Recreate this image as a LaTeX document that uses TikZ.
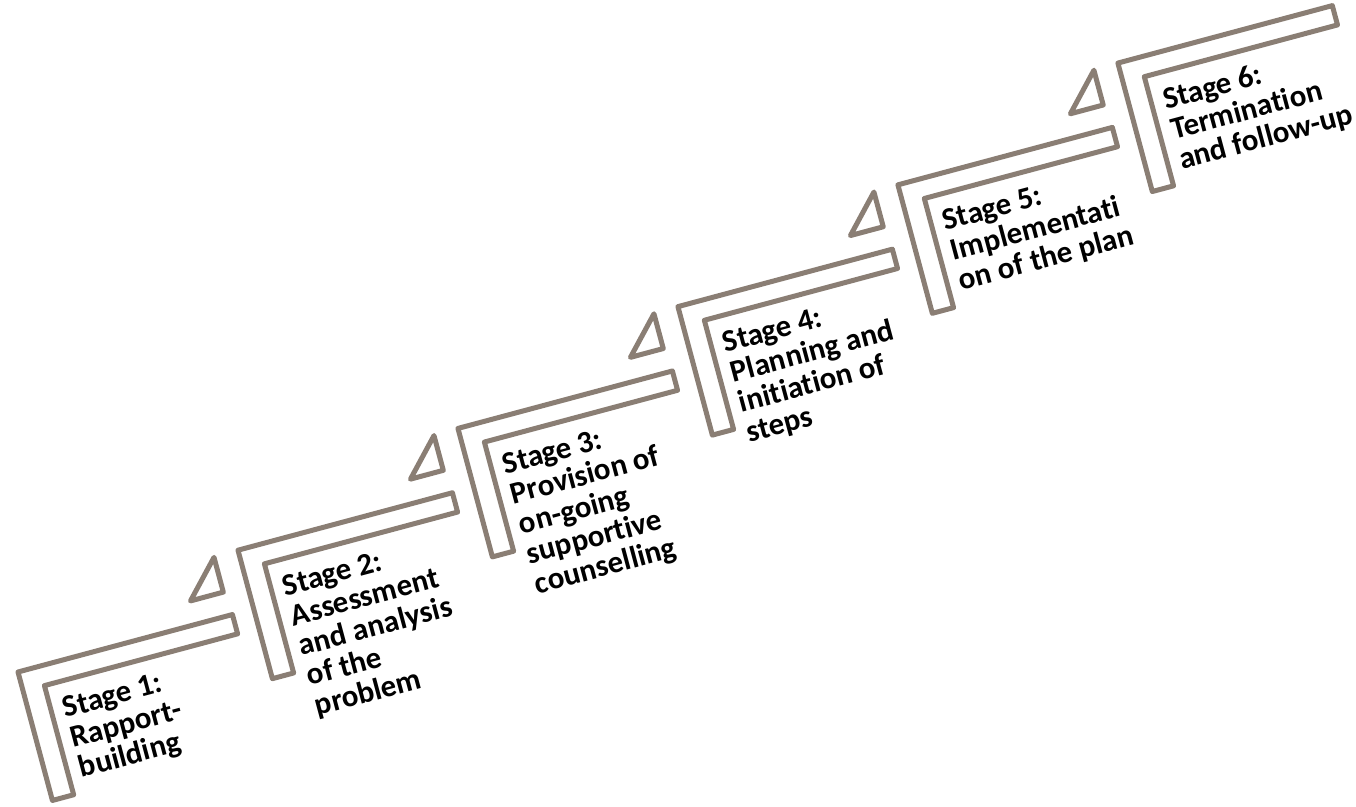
\documentclass[tikz,border=0pt]{standalone}
\usepackage{fontspec}
\setmainfont{Carlito}[Ligatures=NoCommon]
\definecolor{stepline}{HTML}{8A7E74}
\begin{document}
\begin{tikzpicture}[x=0.5pt,y=0.5pt,
    corner/.style={draw=stepline,line width=2.5pt,fill=white,line join=round},
    stagetext/.style={anchor=north west,inner sep=0pt,align=left,rotate=15,
      font=\bfseries\fontsize{15.5}{15.5}\selectfont}]
  \useasboundingbox (0,0) rectangle (1356,807);
  \begin{scope}[shift={(18,135)},rotate=15]
    \foreach \i/\txt in {0/{Stage 1:\\Rapport-\\building},
        1/{Stage 2:\\Assessment\\and analysis\\of the\\problem},
        2/{Stage 3:\\Provision of\\on-going\\supportive\\counselling},
        3/{Stage 4:\\Planning and\\initiation of\\steps},
        4/{Stage 5:\\Implementati\\on of the plan},
        5/{Stage 6:\\Termination\\and follow-up}}{
      \draw[corner] ({244*\i},{60.7*\i}) -- ++(222,0) -- ++(0,-20) -- ++(-200,0) -- ++(0,-113) -- ++(-22,0) -- cycle;
      \node[stagetext] (s\i) at ({244*\i+34},{60.7*\i-36}) {\txt};}
    % arrow heads above the bar ends
    \foreach \i in {0,...,4}
      \draw[corner] ({244*\i+185},{60.7*\i+24}) -- ++(34,0) -- ++(0,36) -- cycle;
  \end{scope}
\end{tikzpicture}
\end{document}
